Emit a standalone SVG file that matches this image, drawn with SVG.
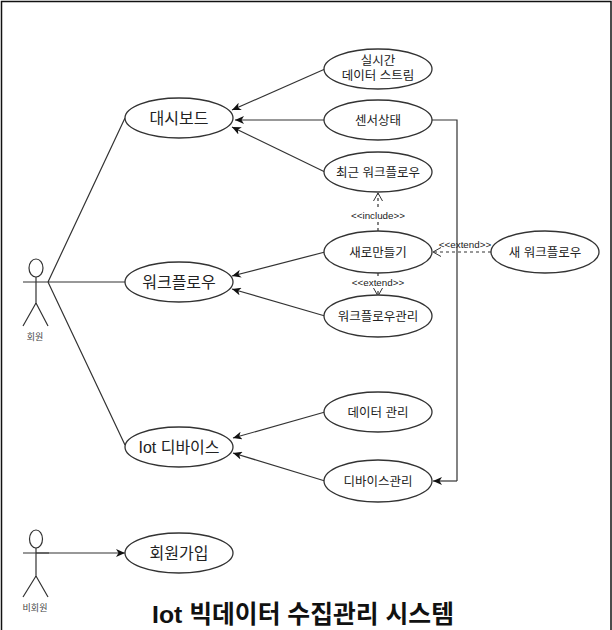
<svg xmlns="http://www.w3.org/2000/svg" width="612" height="630" viewBox="0 0 612 630">
<style>
.n{fill:#fff;stroke:#333;stroke-width:1.3}
.l{fill:none;stroke:#333;stroke-width:1.2}
.d{fill:none;stroke:#333;stroke-width:1.2;stroke-dasharray:3 3}
text{font-family:"Liberation Sans","Noto Sans CJK KR",sans-serif;text-anchor:middle;fill:#222}
.s{font-size:12.5px}.b{font-size:16px}.t{font-size:9.8px}.a{font-size:9px;fill:#444}
</style>
<defs>
<marker id="f" markerWidth="10" markerHeight="8" refX="9" refY="4" orient="auto" markerUnits="userSpaceOnUse"><path d="M0 0L9 4L0 8L2.5 4Z" fill="#111"/></marker>
<marker id="o" markerWidth="10" markerHeight="10" refX="9" refY="5" orient="auto" markerUnits="userSpaceOnUse"><path d="M1 0.5L9 5L1 9.5" fill="none" stroke="#333"/></marker>
</defs>
<rect x="0" y="0" width="612" height="630" fill="#fff"/>
<path id="frame" d="M1.5 630V1.5H611V630" fill="none" stroke="#111" stroke-width="1.5"/>
<g id="connectors">
<path class="l" d="M48 282L125 118M48 282H125M48 282L125 445"/>
<path class="l" marker-end="url(#f)" d="M325 69L232 110"/>
<path class="l" marker-end="url(#f)" d="M325 120H235"/>
<path class="l" marker-end="url(#f)" d="M325 172L232 127"/>
<path class="l" d="M432 120H457V481"/>
<path class="l" marker-end="url(#f)" d="M457 481H433"/>
<path class="l" marker-end="url(#f)" d="M325 252L232 276"/>
<path class="l" marker-end="url(#f)" d="M325 316L232 289"/>
<path class="l" marker-end="url(#f)" d="M325 412L233 438"/>
<path class="l" marker-end="url(#f)" d="M325 481L233 453"/>
<path class="d" marker-end="url(#o)" d="M378 231V193"/>
<path class="d" marker-end="url(#o)" d="M378 273V296"/>
<path class="d" marker-end="url(#o)" d="M491 252H433"/>
<path class="l" marker-end="url(#f)" d="M36 553H125"/>
</g>
<g id="uc-dashboard"><ellipse class="n" cx="179" cy="118" rx="54" ry="20"/><text class="b" x="179" y="124">대시보드</text></g>
<g id="uc-workflow"><ellipse class="n" cx="179" cy="282" rx="54" ry="20"/><text class="b" x="179" y="288">워크플로우</text></g>
<g id="uc-iot"><ellipse class="n" cx="179" cy="447" rx="54" ry="20"/><text class="b" x="179" y="453">Iot 디바이스</text></g>
<g id="uc-join"><ellipse class="n" cx="179" cy="553" rx="54" ry="20"/><text class="b" x="179" y="559">회원가입</text></g>
<g id="uc-stream"><ellipse class="n" cx="378" cy="69" rx="54" ry="20"/><text class="s" x="378" y="65">실시간<tspan x="378" dy="14.5">데이터 스트림</tspan></text></g>
<g id="uc-sensor"><ellipse class="n" cx="378" cy="120" rx="54" ry="20"/><text class="s" x="378" y="124.5">센서상태</text></g>
<g id="uc-recent"><ellipse class="n" cx="378" cy="172" rx="54" ry="20"/><text class="s" x="378" y="176.5">최근 워크플로우</text></g>
<g id="uc-new"><ellipse class="n" cx="378" cy="252" rx="54" ry="21"/><text class="s" x="378" y="256.5">새로만들기</text></g>
<g id="uc-manage"><ellipse class="n" cx="378" cy="316" rx="54" ry="21"/><text class="s" x="378" y="320.5">워크플로우관리</text></g>
<g id="uc-newflow"><ellipse class="n" cx="545" cy="252" rx="54" ry="21"/><text class="s" x="545" y="256.5">새 워크플로우</text></g>
<g id="uc-data"><ellipse class="n" cx="378" cy="412" rx="54" ry="20"/><text class="s" x="378" y="416.5">데이터 관리</text></g>
<g id="uc-device"><ellipse class="n" cx="378" cy="481" rx="54" ry="21"/><text class="s" x="378" y="485.5">디바이스관리</text></g>
<g id="labels">
<rect x="350" y="210" width="56" height="11" fill="#fff"/><text class="t" x="378" y="218.5">&lt;&lt;include&gt;&gt;</text>
<rect x="351" y="277" width="54" height="11" fill="#fff"/><text class="t" x="378" y="285.5">&lt;&lt;extend&gt;&gt;</text>
<text class="t" x="465" y="247.5">&lt;&lt;extend&gt;&gt;</text>
</g>
<g id="actor-member"><ellipse class="l" cx="36" cy="268" rx="7" ry="9"/><path class="l" d="M36 277V303M23 282H48M36 303L23 326M36 303L48 326"/><text class="a" x="35" y="340">회원</text></g>
<g id="actor-guest"><ellipse class="l" cx="36" cy="539" rx="6.5" ry="9"/><path class="l" d="M36 548V576M23 553H49M36 576L23 597M36 576L48 597"/><text class="a" x="35" y="611">비회원</text></g>
<text id="title" x="303" y="623" style="font-size:24.8px;font-weight:700;fill:#111">Iot 빅데이터 수집관리 시스템</text>
</svg>
